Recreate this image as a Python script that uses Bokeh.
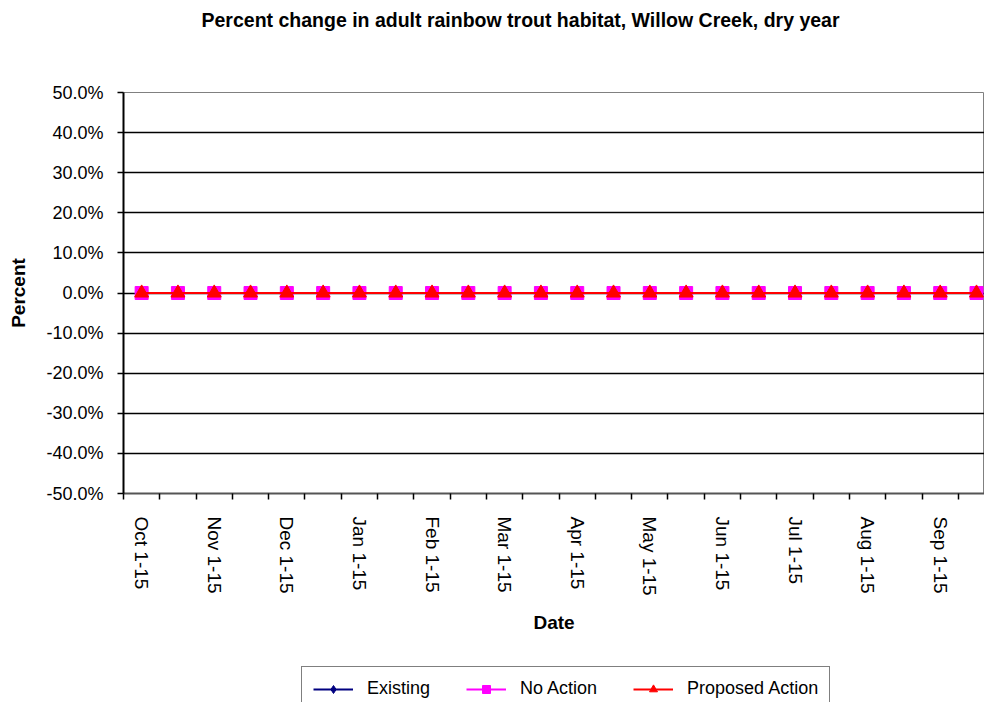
import math
import numpy as np
from bokeh.plotting import figure
from bokeh.layouts import column
from bokeh.models import (Range1d, FixedTicker, NumeralTickFormatter, Legend, LegendItem, Title)
from bokeh.embed import file_html
from bokeh.resources import INLINE

# ---- data ----
categories = ["Oct 1-15", "Oct 16-31", "Nov 1-15", "Nov 16-30", "Dec 1-15", "Dec 16-31",
              "Jan 1-15", "Jan 16-31", "Feb 1-15", "Feb 16-28", "Mar 1-15", "Mar 16-31",
              "Apr 1-15", "Apr 16-30", "May 1-15", "May 16-31", "Jun 1-15", "Jun 16-30",
              "Jul 1-15", "Jul 16-31", "Aug 1-15", "Aug 16-31", "Sep 1-15", "Sep 16-30"]
existing = [0.0] * 24
no_action = [0.0] * 24
proposed_action = [0.0] * 24
y_ticks = [-0.5, -0.4, -0.3, -0.2, -0.1, 0.0, 0.1, 0.2, 0.3, 0.4, 0.5]
series_names = ["Existing", "No Action", "Proposed Action"]
series_colors = ["#000080", "#FF00FF", "#FF0000"]
series_markers = ["diamond", "square", "triangle"]
title_text = "Percent change in adult rainbow trout habitat, Willow Creek, dry year"

FONT = "Liberation Sans"
n = len(categories)
xs = np.arange(n) + 0.5
series = [existing, no_action, proposed_action]
marker_sizes = [12, 13, 14]

p = figure(width=984, height=664, output_backend="svg", toolbar_location=None,
           x_range=Range1d(0, n - 0.28), y_range=Range1d(-0.5, 0.5),
           min_border_left=123, min_border_right=0, min_border_top=92, min_border_bottom=171,
           title=None)

# spacer (nearest the frame) then the real title above it
spacer = Title(text=" ", text_font_size="10px", standoff=49, text_color="white")
p.add_layout(spacer, "above")
title = Title(text=title_text, text_font=FONT, text_font_size="19.5px", text_font_style="bold",
              align="left", offset=78, standoff=0, vertical_align="bottom", text_color="black")
p.add_layout(title, "above")

p.background_fill_color = "white"
p.border_fill_color = "white"
p.outline_line_color = "#808080"
p.outline_line_width = 1

for ys, c, mk, sz in zip(series, series_colors, series_markers, marker_sizes):
    p.line(xs, ys, line_color=c, line_width=2)
    p.scatter(xs, ys, marker=mk, size=sz, fill_color=c, line_color=c)

# y axis
p.yaxis.ticker = FixedTicker(ticks=y_ticks)
p.yaxis.formatter = NumeralTickFormatter(format="0.0%")
p.yaxis.axis_label = "Percent"
p.yaxis.axis_label_text_font = FONT
p.yaxis.axis_label_text_font_size = "19px"
p.yaxis.axis_label_text_font_style = "bold"
p.yaxis.axis_label_text_color = "black"
p.yaxis.axis_label_standoff = 14
p.yaxis.major_label_text_font = FONT
p.yaxis.major_label_text_font_size = "18px"
p.yaxis.major_label_text_color = "black"
p.yaxis.major_tick_in = 0
p.yaxis.major_tick_out = 6
p.yaxis.major_tick_line_width = 1.5
p.yaxis.minor_tick_line_color = None
p.yaxis.axis_line_width = 2
p.yaxis.axis_line_color = "black"
p.yaxis.major_label_standoff = 14

# x axis: labels every other category, ticks at category boundaries
label_pos = [float(x) for i, x in enumerate(xs) if i % 2 == 0]
p.xaxis.ticker = FixedTicker(ticks=label_pos, minor_ticks=list(range(n + 1)))
p.xaxis.major_label_overrides = {float(x): categories[i] for i, x in enumerate(xs) if i % 2 == 0}
p.xaxis.major_label_orientation = -math.pi / 2
p.xaxis.major_label_text_font = FONT
p.xaxis.major_label_text_font_size = "19px"
p.xaxis.major_label_text_color = "black"
p.xaxis.major_label_standoff = 17
p.xaxis.major_tick_in = 0
p.xaxis.major_tick_out = 0
p.xaxis.minor_tick_in = 0
p.xaxis.minor_tick_out = 6
p.xaxis.minor_tick_line_color = "black"
p.xaxis.minor_tick_line_width = 1.5
p.xaxis.axis_line_color = "#555555"
p.xaxis.axis_line_width = 2
p.xaxis.axis_label = "Date"
p.xaxis.axis_label_text_font = FONT
p.xaxis.axis_label_text_font_size = "19px"
p.xaxis.axis_label_text_font_style = "bold"
p.xaxis.axis_label_text_color = "black"
p.xaxis.axis_label_standoff = 13

# grid
p.xgrid.grid_line_color = None
p.ygrid.ticker = FixedTicker(ticks=y_ticks[1:-1])
p.ygrid.grid_line_color = "black"
p.ygrid.grid_line_width = 1.5

# ---- legend strip below the chart (separate figure, hidden proxy renderers) ----
lf = figure(width=984, height=38, output_backend="svg", toolbar_location=None,
            x_range=Range1d(0, n), y_range=Range1d(-1, 1),
            x_axis_type=None, y_axis_type=None, min_border=0, title=None)
lf.outline_line_color = None
lf.xgrid.grid_line_color = None
lf.ygrid.grid_line_color = None
items = []
for name, ys, c, mk, sz in zip(series_names, series, series_colors, series_markers, marker_sizes):
    rl = lf.line(xs, ys, line_color=c, line_width=2, visible=False)
    rm = lf.scatter(xs, ys, marker=mk, size=sz, fill_color=c, line_color=c, visible=False)
    items.append(LegendItem(label=name, renderers=[rl, rm]))

legend = Legend(items=items, orientation="horizontal", location=(178, -9))
legend.label_text_font = FONT
legend.label_text_font_size = "18px"
legend.label_text_color = "black"
legend.glyph_width = 40
legend.glyph_height = 20
legend.label_standoff = 14
legend.spacing = 36
legend.padding = 11
legend.margin = 0
legend.border_line_color = "black"
legend.border_line_width = 1
legend.background_fill_alpha = 1
lf.add_layout(legend, "center")

open("out.html", "w").write(file_html(column(p, lf, spacing=0), INLINE))
